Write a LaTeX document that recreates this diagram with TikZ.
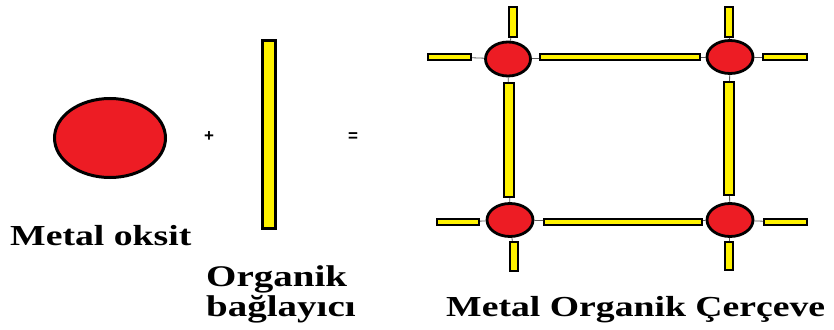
\documentclass[tikz,border=0pt]{standalone}
\usepackage{fontspec}
\setmainfont{Liberation Serif}
\setsansfont{Liberation Sans}
\usetikzlibrary{shapes.geometric}
\definecolor{metalred}{RGB}{237,28,36}
\definecolor{linkyellow}{RGB}{255,242,0}
\newcommand{\widetext}[1]{\scalebox{1.3}[1]{\bfseries #1}}
\tikzset{
  metal/.style={ellipse, draw=black, fill=metalred, line width=2.8pt, inner sep=0pt},
  linker/.style={rectangle, draw=black, fill=linkyellow, line width=2pt, inner sep=0pt},
  hbar/.style={linker, minimum height=6.5pt},
  vbar/.style={linker, minimum width=8pt},
  joint/.style={draw=gray!70!black, line width=0.8pt},
  label/.style={inner sep=0pt, font=\fontsize{29}{29}\selectfont},
  biglabel/.style={inner sep=0pt, font=\fontsize{30}{30}\selectfont},
  sign/.style={inner sep=0pt, font=\sffamily\bfseries\fontsize{17}{17}\selectfont}
}
\begin{document}
\begin{tikzpicture}[x=1pt, y=-1pt]
  \useasboundingbox (0,0) rectangle (834,329);
  \fill[white] (0,0) rectangle (834,329);

  % building blocks
  \node[metal, line width=3pt, minimum width=111pt, minimum height=79pt] (oxide) at (110,138) {};
  \node[sign] (plus) at (209,137) {+};
  \node[linker, line width=2.6pt, minimum width=13pt, minimum height=188pt] (link) at (269,134.5) {};
  \node[sign] (equals) at (353,137) {=};

  \node[label, anchor=base west] (oxidetxt) at (10,245.7) {\widetext{Metal oksit}};
  \node[biglabel, anchor=base west] (linktxt1) at (206,286) {\widetext{Organik}};
  \node[biglabel, anchor=base west] (linktxt2) at (206,316.5) {\widetext{bağlayıcı}};

  % framework: metal nodes
  \node[metal, minimum width=45pt, minimum height=34pt] (m11) at (508,59) {};
  \node[metal, minimum width=46pt, minimum height=33pt] (m12) at (730,57) {};
  \node[metal, minimum width=46pt, minimum height=33pt] (m21) at (510,220) {};
  \node[metal, minimum width=46pt, minimum height=33pt] (m22) at (730,220) {};

  % framework: linkers
  \node[hbar, minimum width=160pt] (top) at (620,57) {};
  \node[hbar, minimum width=43pt] (tl) at (449.5,57) {};
  \node[hbar, minimum width=44pt] (tr) at (785,57) {};
  \node[vbar, minimum height=30pt] (tlu) at (513,22) {};
  \node[vbar, minimum height=30pt] (tru) at (729,22) {};

  \node[vbar, minimum width=10pt, minimum height=114pt] (left) at (509,140) {};
  \node[vbar, minimum width=10pt, minimum height=113pt] (right) at (728.5,138.5) {};

  \node[hbar, minimum width=158pt] (bottom) at (623,222) {};
  \node[hbar, minimum width=42pt] (bl) at (458,222) {};
  \node[hbar, minimum width=43pt] (br) at (785.5,222) {};
  \node[vbar, minimum height=29pt] (bld) at (514,256.5) {};
  \node[vbar, minimum height=28pt] (brd) at (729,256) {};

  % thin joints between metal nodes and linkers
  \draw[joint] (m11) -- (tl);
  \draw[joint] (m11) -- (top);
  \draw[joint] (m11) -- (tlu);
  \draw[joint] (m11) -- (left);
  \draw[joint] (m12) -- (top);
  \draw[joint] (m12) -- (tr);
  \draw[joint] (m12) -- (tru);
  \draw[joint] (m12) -- (right);
  \draw[joint] (m21) -- (left);
  \draw[joint] (m21) -- (bl);
  \draw[joint] (m21) -- (bottom);
  \draw[joint] (m21) -- (bld);
  \draw[joint] (m22) -- (right);
  \draw[joint] (m22) -- (bottom);
  \draw[joint] (m22) -- (br);
  \draw[joint] (m22) -- (brd);

  \node[label, anchor=base west] (moftxt) at (446,316.7) {\widetext{Metal Organik Çerçeve}};
\end{tikzpicture}
\end{document}
